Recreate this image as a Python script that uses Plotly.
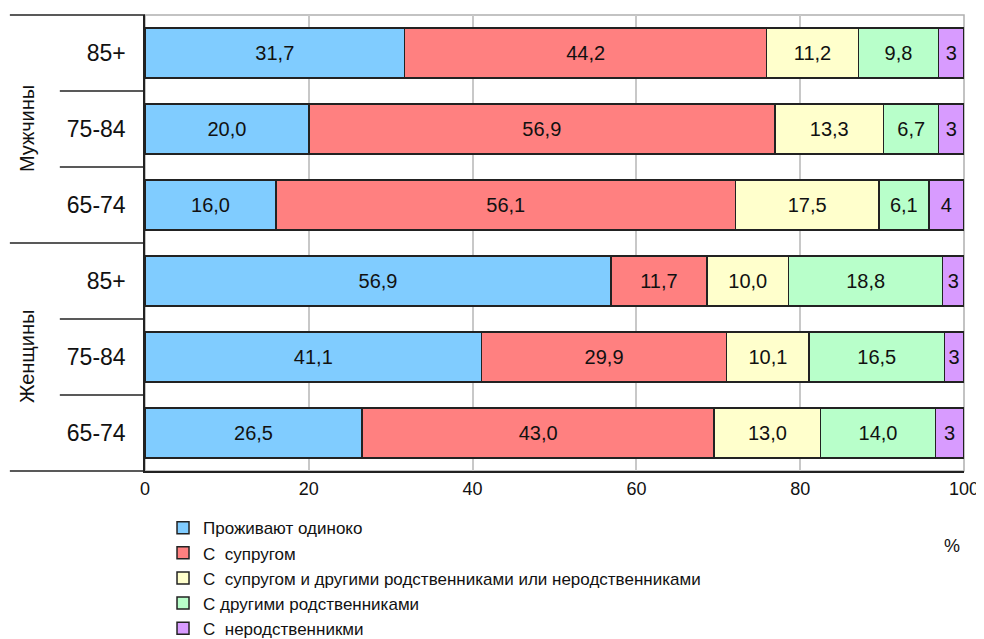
import plotly.graph_objects as go

# Rows from top to bottom
groups = ["Мужчины", "Женщины"]
ages = ["85+", "75-84", "65-74", "85+", "75-84", "65-74"]

series_names = [
    "Проживают одиноко",
    "С  супругом",
    "С  супругом и другими родственниками или неродственниками",
    "С другими родственниками",
    "С  неродственникми",
]
colors = ["#80CCFF", "#FF8080", "#FFFFCC", "#B8FFCA", "#D89BFF"]

alone = [31.7, 20.0, 16.0, 56.9, 41.1, 26.5]
spouse = [44.2, 56.9, 56.1, 11.7, 29.9, 43.0]
spouse_other = [11.2, 13.3, 17.5, 10.0, 10.1, 13.0]
relatives = [9.8, 6.7, 6.1, 18.8, 16.5, 14.0]
non_relatives = [3.1, 3.1, 4.3, 2.6, 2.4, 3.5]
non_relatives_labels = ["3", "3", "4", "3", "3", "3"]

x_ticks = [0, 20, 40, 60, 80, 100]

FONT = "Liberation Sans, Arial, sans-serif"
TXT = "#111111"
rows = list(range(len(ages)))


def fmt(v):
    return f"{v:.1f}".replace(".", ",")


fig = go.Figure()
all_series = [alone, spouse, spouse_other, relatives, non_relatives]
for i, (name, vals, col) in enumerate(zip(series_names, all_series, colors)):
    labels = non_relatives_labels if i == 4 else [fmt(v) for v in vals]
    fig.add_trace(go.Bar(
        y=rows, x=vals, orientation="h", name=name,
        marker=dict(color=col, line=dict(color="#222222", width=1.5)),
        text=labels, textposition="inside", insidetextanchor="middle",
        textangle=0, textfont=dict(size=20, color=TXT, family=FONT),
        hoverinfo="skip",
    ))

shapes = []
# plot frame: light grey top / right
shapes.append(dict(type="rect", xref="paper", yref="paper", x0=0, x1=1, y0=0, y1=1,
                   line=dict(color="#B0B0B0", width=1.5), layer="below"))
# category dividers on the left
n = len(ages)
for k in range(n + 1):
    long = k % 3 == 0
    shapes.append(dict(type="line", xref="paper", yref="paper",
                       x0=-0.165 if long else -0.104, x1=0,
                       y0=1 - k / n, y1=1 - k / n,
                       line=dict(color="#222222", width=1.5)))

annotations = []
for g, name in enumerate(groups):
    annotations.append(dict(text=name, xref="paper", yref="y", x=-0.144, y=g * 3 + 1,
                            xanchor="center", yanchor="middle",
                            textangle=-90, showarrow=False,
                            font=dict(size=20, color=TXT, family=FONT)))
annotations.append(dict(text="%", xref="paper", yref="paper", x=0.998, y=-0.191,
                        showarrow=False, font=dict(size=18, color=TXT, family=FONT)))

# the page body adds an 8px offset, margins below account for it
fig.update_layout(
    barmode="stack",
    bargap=0.34,
    width=984, height=639,
    margin=dict(l=137, r=28, t=7, b=176, autoexpand=False),
    paper_bgcolor="white", plot_bgcolor="white",
    font=dict(family=FONT, color=TXT),
    shapes=shapes,
    annotations=annotations,
    xaxis=dict(range=[0, 100], tickvals=x_ticks, ticks="", ticklabelstandoff=1,
               showgrid=True, gridcolor="#C8C8C8", gridwidth=1.5,
               showline=True, linecolor="#222222", linewidth=1.5,
               zeroline=False, tickfont=dict(size=18), automargin=False),
    yaxis=dict(range=[n - 0.5, -0.5], tickvals=rows, ticktext=ages, ticks="",
               ticklabelstandoff=13, showgrid=False, zeroline=False,
               showline=True, linecolor="#222222", linewidth=1.5,
               tickfont=dict(size=23), automargin=False),
    legend=dict(orientation="v", x=0.022, xanchor="left", y=-0.086, yanchor="top",
                font=dict(size=17), itemwidth=30, traceorder="normal",
                bgcolor="rgba(0,0,0,0)"),
)

fig.write_html("out.html")
